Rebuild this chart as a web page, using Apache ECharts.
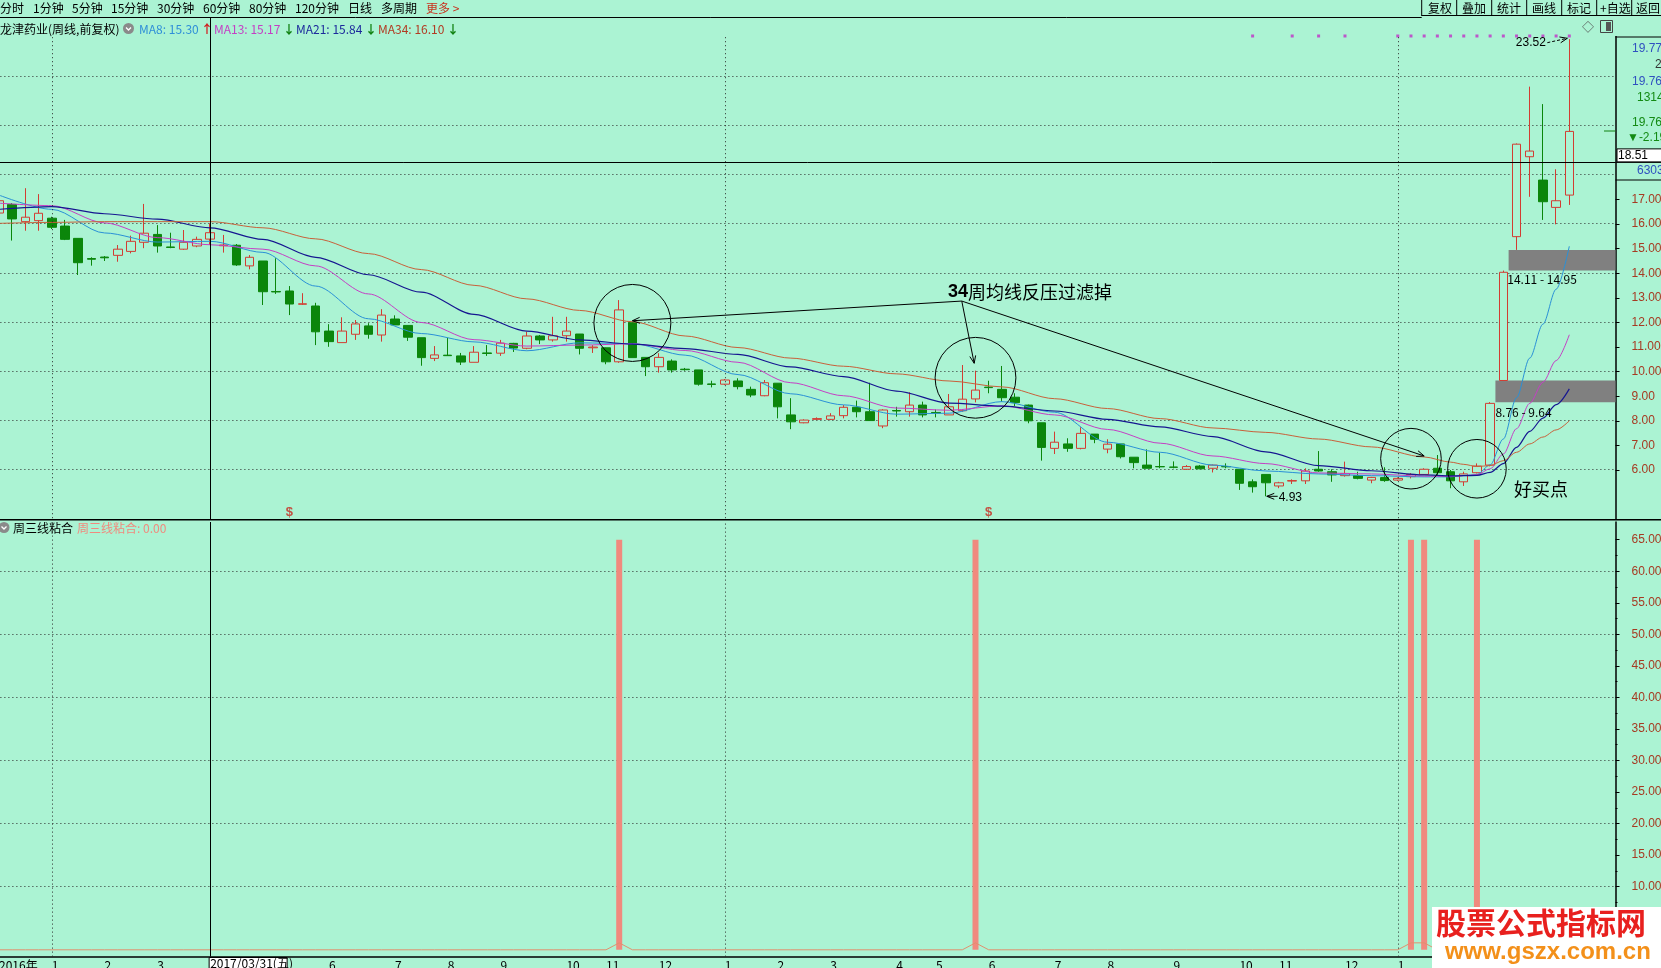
<!DOCTYPE html>
<html>
<head>
<meta charset="utf-8">
<title>龙津药业 周线</title>
<script src="https://cdn.jsdelivr.net/npm/echarts@6.0.0/dist/echarts.min.js"></script>
<style>
html,body{margin:0;padding:0;background:#abf3d3;overflow:hidden;}
#c{width:1661px;height:968px;}
</style>
</head>
<body>
<div id="c"></div>
<script>
// ---------------- data (weekly) ----------------
const open = [16.45,16.80,16.10,16.14,16.24,15.92,15.42,14.60,14.66,14.73,
  14.89,15.26,15.58,15.07,14.98,15.11,15.39,15.12,15.14,14.30,
  14.50,13.26,13.28,12.74,12.67,11.65,11.18,11.52,11.86,11.49,
  12.14,11.88,11.38,10.54,10.67,10.64,10.38,10.76,10.75,11.15,
  10.95,11.45,11.29,11.46,11.53,10.97,10.97,10.40,11.99,10.58,
  10.20,10.43,10.10,10.07,9.50,9.49,9.62,9.28,9.02,9.53,
  8.24,7.92,8.06,8.06,8.21,8.55,8.37,7.79,8.42,8.37,
  8.64,8.34,8.24,8.41,8.89,9.37,9.28,8.96,8.64,7.92,
  6.88,7.06,6.88,7.46,6.85,7.06,6.52,6.20,6.14,6.12,
  6.03,6.16,6.07,6.14,6.03,5.52,5.82,5.35,5.55,5.56,
  6.03,5.93,5.77,5.77,5.59,5.69,5.59,5.73,5.82,6.07,
  5.93,5.52,5.89,6.20,9.64,15.49,18.74,17.79,16.68,17.18];
const close = [16.95,16.21,16.28,16.44,15.87,15.38,14.43,14.57,14.63,14.98,
  15.30,15.63,15.11,15.05,15.26,15.38,15.65,15.15,14.34,14.65,
  13.25,13.24,12.75,12.76,11.62,11.22,11.65,11.94,11.52,12.30,
  11.90,11.40,10.57,10.68,10.65,10.39,10.79,10.74,11.16,10.96,
  11.45,11.29,11.46,11.65,10.95,11.00,10.40,12.51,10.57,10.20,
  10.58,10.07,10.08,9.49,9.48,9.66,9.39,9.05,9.55,8.57,
  7.96,8.03,8.09,8.20,8.55,8.37,8.01,8.44,8.40,8.64,
  8.24,8.32,8.57,8.88,9.25,9.35,8.94,8.74,8.00,6.92,
  7.13,6.88,7.49,7.25,7.05,6.54,6.30,6.07,6.13,6.11,
  6.14,6.05,6.20,6.13,5.46,5.32,5.48,5.48,5.57,5.96,
  5.96,5.80,5.86,5.66,5.70,5.57,5.66,5.82,6.03,5.89,
  5.56,5.84,6.16,8.71,14.04,19.25,18.97,16.91,16.95,19.77];
const low = [16.30,15.33,15.73,15.73,15.80,15.35,13.93,14.31,14.50,14.47,
  14.81,15.02,14.84,15.02,14.95,15.06,15.15,14.84,14.30,14.16,
  12.71,13.16,12.30,12.71,11.08,11.01,11.18,11.29,11.34,11.22,
  11.90,11.25,10.24,10.43,10.64,10.27,10.38,10.64,10.64,10.80,
  10.91,11.12,11.22,11.22,10.70,10.76,10.30,10.36,10.57,9.82,
  9.96,9.96,10.04,9.43,9.36,9.45,9.28,8.96,9.00,8.10,
  7.66,7.90,8.03,8.03,8.10,8.14,8.00,7.70,8.17,8.17,
  8.14,8.14,8.24,8.37,8.75,9.12,8.78,8.60,7.90,6.38,
  6.65,6.74,6.84,7.09,6.68,6.47,6.07,6.07,6.07,6.07,
  6.00,6.03,5.90,6.07,5.19,5.08,4.93,5.26,5.43,5.43,
  5.93,5.52,5.73,5.62,5.46,5.52,5.55,5.66,5.80,5.80,
  5.26,5.35,5.86,6.15,9.64,14.95,17.11,16.17,15.99,16.78];
const high = [17.20,16.85,17.46,17.22,16.30,16.17,15.42,14.65,14.70,15.15,
  15.53,16.82,15.96,15.65,15.76,15.49,16.03,15.56,15.19,14.74,
  14.50,14.61,13.48,13.19,12.80,11.93,12.21,12.10,11.97,12.54,
  12.29,11.88,11.38,11.04,11.38,10.76,11.04,11.08,11.29,11.17,
  11.62,11.49,12.23,12.23,11.53,11.08,10.98,12.91,11.99,10.58,
  10.75,10.50,10.15,10.07,9.63,9.70,9.73,9.39,9.66,9.53,
  8.92,8.06,8.14,8.31,8.64,8.82,9.55,8.47,8.57,9.16,
  8.78,8.46,9.09,10.27,10.04,9.63,10.23,9.12,8.66,7.92,
  7.56,7.29,7.74,7.46,7.25,7.06,6.52,6.84,6.70,6.35,
  6.20,6.20,6.22,6.27,6.03,5.62,5.82,5.52,5.62,6.07,
  6.77,6.03,6.34,5.93,5.72,6.11,5.70,5.87,6.07,6.61,
  6.00,5.93,6.27,8.76,14.11,19.28,21.59,20.88,18.23,23.52];

// moving averages at these week positions
const maIdx = [0,4,8,12,16,20,24,28,32,36,40,44,48,52,56,60,64,68,72,76,80,84,88,92,96,100,104,108,110,111,112,113,114,115,116,117,118,119];
const ma8  = [17.18,16.60,15.64,15.27,15.30,14.85,13.48,12.15,11.55,11.21,10.85,11.17,11.14,10.67,9.88,9.10,8.65,8.27,8.31,8.78,8.35,7.13,6.72,6.20,5.96,5.84,5.77,5.72,5.72,5.78,5.82,6.21,7.26,8.94,10.55,11.93,13.35,15.10];
const ma13 = [16.85,16.75,16.05,15.45,15.16,14.98,14.30,13.16,12.00,11.30,11.04,11.08,11.13,10.86,10.38,9.55,9.02,8.52,8.43,8.61,8.24,7.65,7.09,6.57,6.26,5.88,5.84,5.75,5.74,5.77,5.81,6.05,6.65,7.68,8.71,9.57,10.45,11.50];
const ma21 = [16.60,16.71,16.42,16.20,15.85,15.38,14.65,13.94,13.23,12.33,11.65,11.29,11.12,10.94,10.70,10.19,9.80,9.21,8.72,8.60,8.40,8.06,7.75,7.36,6.74,6.18,5.97,5.80,5.76,5.77,5.78,5.90,6.26,6.92,7.57,8.11,8.66,9.30];
const ma34 = [16.03,16.07,16.10,16.10,16.10,15.85,15.40,14.80,14.15,13.51,12.96,12.49,12.03,11.45,10.98,10.55,10.22,9.91,9.62,9.38,8.90,8.50,8.09,7.71,7.53,7.26,6.94,6.53,6.32,6.23,6.14,6.18,6.38,6.72,7.06,7.34,7.63,8.00];

// x axis month labels (week index, text)
const monthTicks = [[0,'2016年'],[4,'1'],[8,'2'],[12,'3'],[16,'4'],[21,'5'],[25,'6'],[30,'7'],[34,'8'],[38,'9'],[43,'10'],[46,'11'],[50,'12'],
  [55,'1'],[59,'2'],[63,'3'],[68,'4'],[71,'5'],[75,'6'],[80,'7'],[84,'8'],[89,'9'],[94,'10'],[97,'11'],[102,'12'],[106,'1'],[110,'2'],[114,'3']];
const yearLineIdx = [4,55,106];

// lower pane "周三线粘合" signal
const stickIdx = [47,74,107,108,112];
const stickVal = [65,65,65,65,65];
const lineSpike = [1.1,1.1,1.1,1.1,1.1];

// top purple dots and $ signals
const dotIdx = [95,98,100,102,106,107,108,109,110,111,112,113,114,115,116,117,118,119];
const dotPrice = 23.65;
const signalIdx = [22,75];
const signalPrice = 4.28;

const cursorIdx = 16, cursorPrice = 18.51, cursorDate = '2017/03/31(五)';
const N_SLOTS = 123;

// ---------------- chart ----------------
const BG = '#abf3d3';
const FF = '"Noto Sans CJK SC", "Liberation Sans", sans-serif';
const NF = '"Liberation Sans", sans-serif';
const UP = '#d23c32', DN = '#0b860b';
const cats = Array.from({length: N_SLOTS}, (_, i) => String(i));
const monthMap = {}; monthTicks.forEach(([i, t]) => monthMap[i] = t);
const isMonth = (i) => monthMap[i] !== undefined;

const kData = open.map((o, i) => [o, close[i], low[i], high[i]]);
const maSeries = (vals) => maIdx.map((i, k) => [i, vals[k]]);
const barData = open.map((_, i) => { const k = stickIdx.indexOf(i); return k >= 0 ? stickVal[k] : '-'; });
const lineData = open.map((_, i) => { const k = stickIdx.indexOf(i); return k >= 0 ? lineSpike[k] : 0; });

const L = -7.6, R = 45.5;
const chart = echarts.init(document.getElementById('c'), null, {width: 1661, height: 968});
const dotted = {color: '#2a2a2a', width: 1, type: [1, 3]};
const hidCat = (g) => ({gridIndex: g, type: 'category', data: cats, show: false});
const noAxis = {axisLine: {show: false, onZero: false}, axisTick: {show: false}, axisLabel: {show: false}, splitLine: {show: false}};
const G = (top, height) => ({left: L, right: R, top, height, outerBoundsMode: 'none', containLabel: false});

chart.setOption({
  animation: false,
  backgroundColor: BG,
  textStyle: {fontFamily: FF},
  grid: [G(2.79, 516.39), G(76.06, 393.44), G(199.51, 270.49), G(522, 434.6), G(539.65, 378.6), G(571.2, 315.5)],
  xAxis: [
    hidCat(0), hidCat(1), hidCat(2),
    {gridIndex: 3, type: 'category', data: cats, position: 'bottom',
      axisLine: {onZero: false, lineStyle: {color: '#000', width: 1.5}},
      axisTick: {alignWithLabel: true, interval: (i) => isMonth(i), length: 9, lineStyle: {color: '#000'}},
      axisLabel: {interval: (i) => isMonth(i), formatter: (v) => monthMap[+v] || '', align: 'left', margin: 3,
        color: '#000', fontSize: 12, fontFamily: FF},
      splitLine: {show: false}},
    {gridIndex: 3, type: 'category', data: cats, position: 'bottom',
      axisLine: {show: false, onZero: false}, axisTick: {alignWithLabel: true, interval: 0, length: 3, lineStyle: {color: '#000'}},
      axisLabel: {show: false}, splitLine: {show: false}},
    hidCat(4), hidCat(5)
  ],
  yAxis: [
    Object.assign({gridIndex: 0, position: 'right', min: 4, max: 25, scale: true}, noAxis,
      {axisLine: {show: true, onZero: false, lineStyle: {color: '#000', width: 1.5}}}),
    Object.assign({gridIndex: 1, min: 6, max: 22, interval: 2}, noAxis, {splitLine: {show: true, lineStyle: dotted}}),
    {gridIndex: 2, position: 'right', min: 6, max: 17, interval: 1,
      axisLine: {show: false, onZero: false}, axisTick: {show: true, length: 4, lineStyle: {color: '#000'}},
      axisLabel: {color: '#a63a22', fontSize: 12, margin: 16, padding: [6, 0, 0, 0], fontFamily: NF, formatter: (v) => v.toFixed(2)},
      splitLine: {show: false}},
    Object.assign({gridIndex: 3, position: 'right', min: -1.078, max: 67.8, scale: true}, noAxis,
      {axisLine: {show: true, onZero: false, lineStyle: {color: '#000', width: 1.5}}}),
    {gridIndex: 4, position: 'right', min: 5, max: 65, interval: 5,
      axisLine: {show: false, onZero: false}, axisTick: {show: true, length: 4, lineStyle: {color: '#000'}},
      minorTick: {show: true, splitNumber: 2, length: 2, lineStyle: {color: '#000'}},
      axisLabel: {color: '#a63a22', fontSize: 12, margin: 16, padding: [4, 0, 0, 0], fontFamily: NF, formatter: (v) => v.toFixed(2)},
      splitLine: {show: false}},
    Object.assign({gridIndex: 5, min: 10, max: 60, interval: 10}, noAxis, {splitLine: {show: true, lineStyle: dotted}})
  ],
  series: [
    {type: 'candlestick', name: 'K', xAxisIndex: 0, yAxisIndex: 0, data: kData, barWidth: 9, z: 2,
      itemStyle: {color: BG, color0: DN, borderColor: UP, borderColor0: DN, borderWidth: 1},
      markLine: {symbol: 'none', silent: true, label: {show: false}, animation: false,
        data: [
          ...yearLineIdx.map(i => [{coord: [i, 23.6], lineStyle: dotted}, {coord: [i, 4]}]),
          {xAxis: cursorIdx, lineStyle: {color: '#000', type: 'solid', width: 1}},
          {yAxis: cursorPrice, lineStyle: {color: '#000', type: 'solid', width: 1}}
        ]}},
    {type: 'line', name: 'MA8', xAxisIndex: 0, yAxisIndex: 0, data: maSeries(ma8), showSymbol: false, smooth: 0.3, smoothMonotone: 'x', z: 3,
      lineStyle: {color: '#2a90d6', width: 1}},
    {type: 'line', name: 'MA13', xAxisIndex: 0, yAxisIndex: 0, data: maSeries(ma13), showSymbol: false, smooth: 0.3, smoothMonotone: 'x', z: 3,
      lineStyle: {color: '#c43fc4', width: 1}},
    {type: 'line', name: 'MA21', xAxisIndex: 0, yAxisIndex: 0, data: maSeries(ma21), showSymbol: false, smooth: 0.3, smoothMonotone: 'x', z: 3,
      lineStyle: {color: '#161690', width: 1.2}},
    {type: 'line', name: 'MA34', xAxisIndex: 0, yAxisIndex: 0, data: maSeries(ma34), showSymbol: false, smooth: 0.3, smoothMonotone: 'x', z: 3,
      lineStyle: {color: '#c8603a', width: 1}},
    {type: 'scatter', xAxisIndex: 0, yAxisIndex: 0, data: dotIdx.map(i => [i, dotPrice]), symbol: 'rect', symbolSize: 3,
      itemStyle: {color: '#c030c8'}, z: 4},
    {type: 'scatter', xAxisIndex: 0, yAxisIndex: 0, data: signalIdx.map(i => [i, signalPrice]), symbolSize: 2,
      itemStyle: {color: 'rgba(0,0,0,0)'}, z: 4,
      label: {show: true, position: 'inside', formatter: '$', color: '#c8281e', fontSize: 13, fontWeight: 'bold', fontFamily: NF}},
    {type: 'bar', xAxisIndex: 3, yAxisIndex: 3, data: barData, barWidth: 6, z: 2,
      itemStyle: {color: '#f08a7e'},
      markLine: {symbol: 'none', silent: true, label: {show: false}, animation: false,
        data: [
          ...yearLineIdx.map(i => ({xAxis: i, lineStyle: dotted})),
          {xAxis: cursorIdx, lineStyle: {color: '#000', type: 'solid', width: 1}}
        ]}},
    {type: 'line', xAxisIndex: 3, yAxisIndex: 3, data: lineData, showSymbol: false, z: 3,
      lineStyle: {color: '#e0906e', width: 1}}
  ]
});

// ---------------- annotations / chrome ----------------
function P(i, p) {
  const i0 = Math.floor(i), f = i - i0;
  const a = chart.convertToPixel({xAxisIndex: 0, yAxisIndex: 0}, [i0, p]);
  const b = chart.convertToPixel({xAxisIndex: 0, yAxisIndex: 0}, [i0 + 1, p]);
  return [a[0] + f * (b[0] - a[0]), a[1]];
}
const txt = (text, x, y, o = {}) => ({type: 'text', z: o.z || 60, style: Object.assign({text, x, y, fill: '#000',
  font: (o.weight || 'normal') + ' ' + (o.size || 12) + 'px ' + (o.family || FF), verticalAlign: 'middle', align: 'left'}, o.style || {})});
const line = (x1, y1, x2, y2, color = '#000', w = 1, z = 60, dash) => ({type: 'line', z, shape: {x1, y1, x2, y2},
  style: {stroke: color, lineWidth: w, lineDash: dash}});
function arrow(x1, y1, x2, y2, dash) {
  const a = Math.atan2(y2 - y1, x2 - x1), h = 8, s = 0.38;
  return [line(x1, y1, x2, y2, '#000', 1, 55, dash),
    {type: 'polyline', z: 55, shape: {points: [[x2 - h * Math.cos(a - s), y2 - h * Math.sin(a - s)], [x2, y2],
      [x2 - h * Math.cos(a + s), y2 - h * Math.sin(a + s)]]}, style: {stroke: '#000', fill: null, lineWidth: 1}}];
}

const g = [];
const gridRight = 1661 - R;

// gap zones
const gaps = [[113.4, 8.76, 9.64], [114.4, 14.11, 14.95]];
gaps.forEach(([i, lo, hi]) => {
  const a = P(i, hi), b = P(i, lo);
  g.push({type: 'rect', z: 1, shape: {x: a[0], y: a[1], width: gridRight - a[0], height: b[1] - a[1]}, style: {fill: '#808080'}});
});
g.push(txt('8.76 - 9.64', ...P(113.4, 8.36)));
g.push(txt('14.11 - 14.95', ...P(114.3, 13.74)));

// circles
const circles = [[48.0, 11.98, 38.5], [74.0, 9.75, 40.4], [107.0, 6.46, 30.3], [112.0, 6.05, 29.3]];
circles.forEach(([i, p, r]) => { const c = P(i, p);
  g.push({type: 'circle', z: 55, shape: {cx: c[0], cy: c[1], r}, style: {fill: null, stroke: '#000', lineWidth: 1}}); });

// annotation text and arrows
const o = P(72.96, 12.87);
[[48.0, 12.07], [73.9, 10.34], [108.0, 6.57]].forEach(([i, p]) => { const t = P(i, p); g.push(...arrow(o[0], o[1], t[0], t[1])); });
const tp = P(71.92, 13.24);
g.push({type: 'text', z: 60, style: {x: tp[0], y: tp[1], verticalAlign: 'middle', align: 'left',
  text: '{a|34}{b|周均线反压过滤掉}', rich: {a: {font: 'bold 18px "Liberation Sans", sans-serif', fill: '#000'},
  b: {font: '18px ' + FF, fill: '#000'}}}});
g.push(txt('好买点', ...P(114.8, 5.23), {size: 18}));

// low / high labels
const lo = P(96, 4.93), lo2 = P(96.9, 4.93);
g.push(...arrow(lo2[0], lo[1], lo[0] + 1, lo[1]));
g.push(txt('4.93', lo2[0] + 1, lo[1] + 1, {family: NF}));
const hi = P(119, 23.52);
g.push(...arrow(hi[0] - 22, hi[1] + 3.5, hi[0] - 2, hi[1] - 0.9, [3, 2]));
g.push(txt('23.52', hi[0] - 23.5, hi[1] + 4, {family: NF, style: {align: 'right'}}));

// toolbar
g.push({type: 'rect', z: 100, shape: {x: 0, y: 0, width: 1661, height: 17}, style: {fill: BG}});
g.push({type: 'rect', z: 100, shape: {x: 1613, y: 17, width: 5, height: 19}, style: {fill: BG}});
[['分时', 0], ['1分钟', 33], ['5分钟', 72], ['15分钟', 111], ['30分钟', 157], ['60分钟', 203], ['80分钟', 249],
 ['120分钟', 295], ['日线', 348], ['多周期', 381]].forEach(([t, x]) => g.push(txt(t, x, 8, {z: 101})));
g.push(txt('更多 >', 426, 8, {z: 101, style: {fill: '#c8321e'}}));
g.push(line(0, 17.5, 1421.7, 17.5, '#000', 1, 101));
g.push(line(1421.7, 15.5, 1661, 15.5, '#000', 1, 101));
[1421.7, 1456.7, 1491.7, 1526.7, 1561.7, 1596.7, 1631.7].forEach(x => g.push(line(x, 0, x, 16, '#000', 1, 101)));
[['复权', 1428], ['叠加', 1462], ['统计', 1497], ['画线', 1532], ['标记', 1567], ['+自选', 1600], ['返回', 1636]]
  .forEach(([t, x]) => g.push(txt(t, x, 8, {z: 101})));
g.push(txt('◇', 1582, 27, {z: 101, size: 12, style: {fill: '#555'}}));
g.push({type: 'rect', z: 101, shape: {x: 1600.5, y: 20.5, width: 12, height: 12}, style: {fill: null, stroke: '#444', lineWidth: 1}});
g.push({type: 'rect', z: 101, shape: {x: 1606, y: 22, width: 5, height: 9}, style: {fill: '#555'}});

// legend rows
g.push(txt('龙津药业(周线,前复权)', 0, 29));
const icon = (cx, cy) => [{type: 'circle', z: 60, shape: {cx, cy, r: 5.5}, style: {fill: '#8a8a8a'}},
  {type: 'polyline', z: 61, shape: {points: [[cx - 2.5, cy - 1], [cx, cy + 1.5], [cx + 2.5, cy - 1]]}, style: {stroke: '#fff', lineWidth: 1.3, fill: null}}];
g.push(...icon(128.5, 28.5));
g.push(txt('MA8: 15.30', 139, 29, {style: {fill: '#2f8fd8'}}));
g.push(txt('↑', 201, 29, {weight: 'bold', style: {fill: '#d02020'}}));
g.push(txt('MA13: 15.17', 214, 29, {style: {fill: '#c43fc4'}}));
g.push(txt('↓', 283, 29, {weight: 'bold', style: {fill: '#108010'}}));
g.push(txt('MA21: 15.84', 296, 29, {style: {fill: '#1c2a9c'}}));
g.push(txt('↓', 365, 29, {weight: 'bold', style: {fill: '#108010'}}));
g.push(txt('MA34: 16.10', 378, 29, {style: {fill: '#b23a22'}}));
g.push(txt('↓', 447, 29, {weight: 'bold', style: {fill: '#108010'}}));

g.push(line(0, 519.8, 1661, 519.8, '#000', 1.5, 60));
g.push(...icon(4, 527.5));
g.push(txt('周三线粘合', 13, 528));
g.push(txt('周三线粘合: 0.00', 77, 528, {style: {fill: '#f08a7e'}}));

// right info panel
const cy = P(0, cursorPrice)[1];
g.push(line(gridRight, cy, 1661, cy, '#000', 1, 60));
g.push(line(gridRight, 37, 1661, 37, '#000', 1, 60));
g.push(line(gridRight, 180, 1661, 180, '#000', 1, 60));
g.push(line(1604, 131, gridRight, 131, '#108010', 1, 60));
g.push(txt('19.77', 1632, 49, {family: NF, style: {fill: '#3050c0'}}));
g.push(txt('23.52', 1655, 65, {family: NF, style: {fill: '#333'}}));
g.push(txt('19.76', 1632, 82, {family: NF, style: {fill: '#3050c0'}}));
g.push(txt('1314', 1637, 98, {family: NF, style: {fill: '#138a13'}}));
g.push(txt('19.76', 1632, 123, {family: NF, style: {fill: '#138a13'}}));
g.push(txt('▼-2.19', 1627, 138, {family: NF, style: {fill: '#138a13'}}));
g.push({type: 'rect', z: 61, shape: {x: 1617, y: cy - 13.5, width: 46, height: 13}, style: {fill: '#fff', stroke: '#000', lineWidth: 1}});
g.push(txt(cursorPrice.toFixed(2), 1618, cy - 6.5, {z: 62, family: NF}));
g.push(txt('6303', 1637, 171, {family: NF, style: {fill: '#3050c0'}}));

// cursor date label at the bottom axis
const cx = P(cursorIdx, 10)[0];
g.push({type: 'rect', z: 70, shape: {x: cx - 1, y: 957.5, width: 78, height: 11}, style: {fill: '#fff', stroke: '#000', lineWidth: 1}});
g.push(txt(cursorDate, cx, 963.5, {z: 71}));

// watermark
g.push({type: 'rect', z: 120, shape: {x: 1432, y: 907, width: 229, height: 61}, style: {fill: '#ffffff'}});
g.push(txt('股票公式指标网', 1436, 923, {z: 121, size: 30, weight: 'bold', style: {fill: '#e8201e'}}));
g.push(txt('www.gszx.com.cn', 1445, 952, {z: 121, size: 24, weight: 'bold', family: NF, style: {fill: '#f3901a'}}));

chart.setOption({graphic: {elements: g}});
</script>
</body>
</html>
